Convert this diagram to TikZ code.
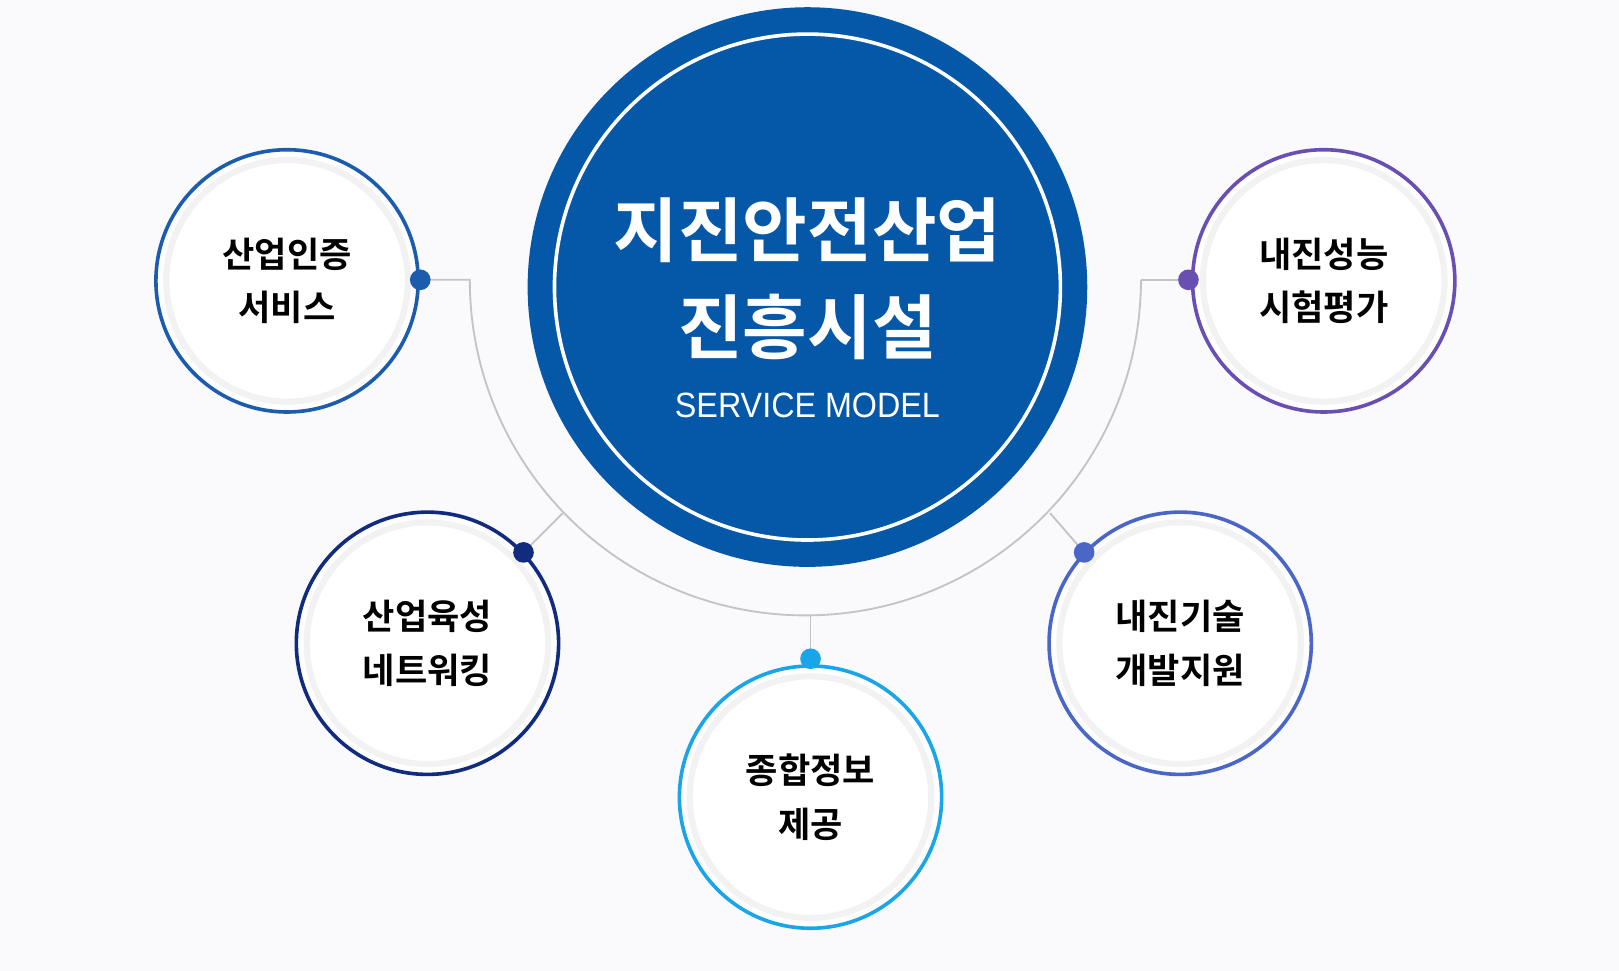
\documentclass[tikz,border=0pt]{standalone}
\usepackage{fontspec}
\setmainfont{Noto Sans CJK KR}[BoldFont={* Bold}]
\newfontfamily\kr{Noto Sans CJK KR Bold}
\newfontfamily\sv{Liberation Sans}
\definecolor{mainblue}{HTML}{0557A8}
\definecolor{cA}{HTML}{1B5CAE}
\definecolor{cB}{HTML}{112C7E}
\definecolor{cC}{HTML}{1AA5E8}
\definecolor{cD}{HTML}{6A4FB2}
\definecolor{cE}{HTML}{4A66C6}
\definecolor{bg}{HTML}{FAFAFC}
\definecolor{line}{HTML}{C4C4C8}
\tikzset{
 sat/.style={circle,draw=#1,line width=3.5pt,fill=white,minimum size=254pt,inner sep=0pt,font=\kr\fontsize{34}{52}\selectfont,align=center,text=black},
 dotn/.style={circle,fill=#1,minimum size=20pt,inner sep=0pt},
 conn/.style={draw=line,line width=1.8pt}
}
\begin{document}
\begin{tikzpicture}[x=1pt,y=-1pt]
\fill[bg] (0,0) rectangle (1568,940);
\useasboundingbox (0,0) rectangle (1568,940);
% connectors
\coordinate (la) at (455,271);
\coordinate (ra) at (1105,271);
\draw[conn] (407,271) -- (la) arc[start angle=180,end angle=0,radius=325];
\draw[conn] (545,497) -- (507,535);
\draw[conn] (1017,497) -- (1050,535);
\draw[conn] (785,596) -- (785,638);
% main
\node[circle,fill=mainblue,minimum size=542pt,inner sep=0pt] (m) at (782,278) {};
\draw[white,line width=3.5pt] (m.center) circle[radius=245];
\node[text=white,font=\kr\fontsize{68}{93}\selectfont,align=center] (mt) at (782,270) {지진안전산업\\진흥시설};
\node[text=white,font=\sv\fontsize{34}{36}\selectfont,xscale=0.92] (ms) at (782,393) {SERVICE MODEL};
% satellites
\foreach \n/\x/\y/\c/\t in {a/278/272/cA/{산업인증\\서비스}, b/414/623/cB/{산업육성\\네트워킹}, c/785/772/cC/{종합정보\\제공}, d/1282/272/cD/{내진성능\\시험평가}, e/1143/623/cE/{내진기술\\개발지원}}{
 \node[sat=\c] (\n) at (\x,\y) {\t};
 \draw[gray!10,line width=6pt] (\n.center) circle[radius=117];
}
\node[dotn=cA] (da) at (407,271) {};
\node[dotn=cB] (db) at (507,535) {};
\node[dotn=cC] (dc) at (785,638) {};
\node[dotn=cD] (dd) at (1151,271) {};
\node[dotn=cE] (de) at (1050,535) {};
\draw[conn] (dd) -- (ra);
\end{tikzpicture}
\end{document}
